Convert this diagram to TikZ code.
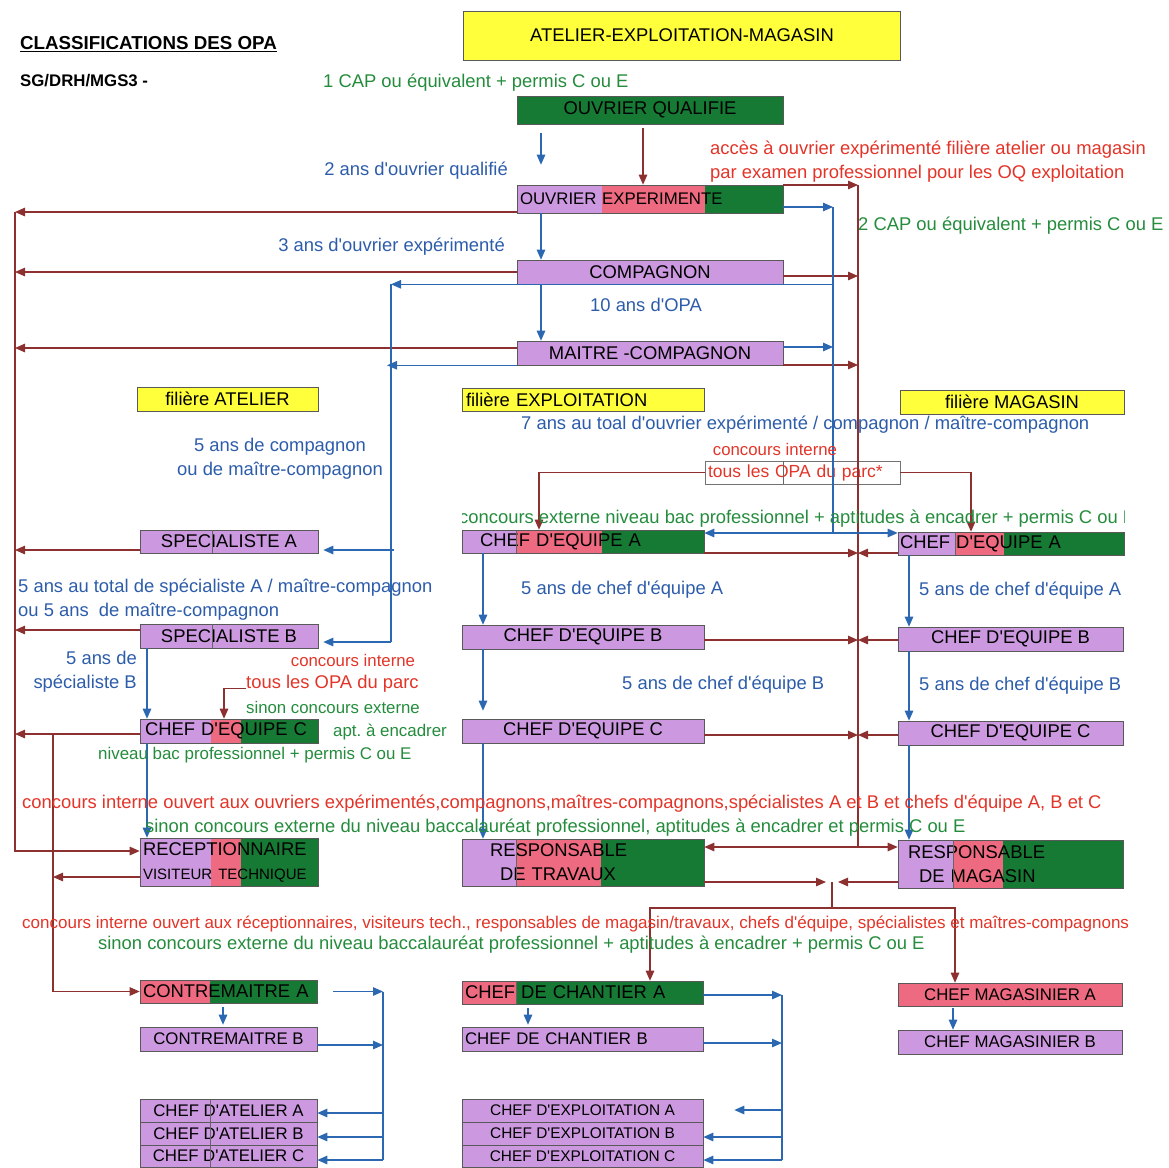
\documentclass[tikz,border=0pt]{standalone}
\usepackage{fontspec}
\setmainfont{Liberation Sans}[Ligatures=TeXOff]
\usetikzlibrary{arrows.meta}

\definecolor{pu}{RGB}{204,153,224}
\definecolor{pk}{RGB}{238,106,128}
\definecolor{gr}{RGB}{22,122,52}
\definecolor{ye}{RGB}{255,255,60}
\definecolor{dbrown}{RGB}{140,48,48}
\definecolor{dblue}{RGB}{44,104,178}
\definecolor{rt}{RGB}{226,52,40}
\definecolor{gt}{RGB}{36,140,60}
\definecolor{bt}{RGB}{44,92,170}

\newcommand{\boxfont}{\fontsize{18.4}{24}\selectfont}
\newcommand{\midboxfont}{\fontsize{16.8}{24}\selectfont}
\newcommand{\smallboxfont}{\fontsize{15}{24}\selectfont}
\newcommand{\notefont}{\fontsize{18.4}{24}\selectfont}
\newcommand{\smallnotefont}{\fontsize{16.8}{24}\selectfont}
\frenchspacing

\begin{document}
\begin{tikzpicture}[
      x=1pt, y=-1pt,
      >={Triangle[length=10pt,width=8.5pt]},
      box/.style={draw=black!65, line width=.6pt, inner ysep=0pt, inner xsep=3pt,
                  minimum height=24pt, font=\boxfont, text=black},
      pbox/.style={box, fill=pu},
      ybox/.style={box, fill=ye},
      brl/.style={draw=dbrown, line width=1.2pt},
      bra/.style={brl, ->},
      bll/.style={draw=dblue, line width=1.2pt},
      bla/.style={bll, ->},
      bnote/.style={text=bt, font=\notefont, inner sep=0pt, yshift=-1.5pt},
      rnote/.style={text=rt, font=\notefont, inner sep=0pt, yshift=-1.5pt},
      gnote/.style={text=gt, font=\notefont, inner sep=0pt, yshift=-1.5pt}]

        \useasboundingbox (0,0) rectangle (1169,1167);

        \node[anchor=west, inner sep=0pt, font=\fontsize{18.75}{20}\selectfont\bfseries] (title) at (20,44)
          {\underline{CLASSIFICATIONS DES OPA}};
        \node[anchor=west, inner sep=0pt, font=\fontsize{16.8}{20}\selectfont\bfseries] (sg) at (20,81)
          {SG/DRH/MGS3 -};

        % couleurs des cases
        \foreach \xa/\xb/\ya/\yb/\cl in {
            517/602/185/213/pu, 602/705/185/213/pk, 705/783/185/213/gr,
            140/211/719/743/pu, 211/241/719/743/pk, 241/318/719/743/gr,
            140/211/838/886/pu, 211/241/838/886/pk, 241/318/838/886/gr,
            140/210/980/1003/pk, 210/317/980/1003/gr,
            462/516/530/553/pu, 516/602/530/553/pk, 602/704/530/553/gr,
            462/516/839/886/pu, 516/601/839/886/pk, 601/704/839/886/gr,
            462/516/981/1004/pk, 516/703/981/1004/gr,
            898/955/532/555/pu, 955/1004/532/555/pk, 1004/1124/532/555/gr,
            898/953/840/888/pu, 953/1003/840/888/pk, 1003/1123/840/888/gr}
          \fill[\cl] (\xa,\ya) rectangle (\xb,\yb);

        % filieres
        \node[ybox, minimum width=437pt, minimum height=49pt] (amag) at (682,35.5) {ATELIER-EXPLOITATION-MAGASIN};
        \node[ybox, minimum width=181pt] (fat) at (227.5,399) {filière ATELIER};
        \node[ybox, minimum width=242pt, minimum height=23pt, text width=234pt, inner xsep=4pt, align=left] (fex) at (583,399.5) {filière EXPLOITATION};
        \node[ybox, minimum width=224pt] (fmg) at (1012,402) {filière MAGASIN};

        % tronc commun
        \node[box, fill=gr, minimum width=266pt, minimum height=28pt] (oq) at (650,110) {OUVRIER QUALIFIE};
        \node[box, minimum width=266pt, minimum height=28pt, text width=260pt, align=left, font=\midboxfont] (oe) at (650,199) {OUVRIER EXPERIMENTE};
        \node[pbox, minimum width=266pt] (comp) at (650,272) {COMPAGNON};
        \node[pbox, minimum width=266pt] (mc) at (650,353) {MAITRE -COMPAGNON};

        % atelier
        \node[pbox, minimum width=178pt, minimum height=23pt] (specA) at (229,541.5) {SPECIALISTE A};
        \node[pbox, minimum width=178pt] (specB) at (229,636) {SPECIALISTE B};
        \node[box, minimum width=178pt, inner xsep=5pt, text width=168pt, align=left] (cdeCat) at (229,731) {CHEF D'EQUIPE C};
        \node[box, minimum width=178pt, minimum height=48pt, text width=172pt, align=left] (recep) at (229,862)
          {RECEPTIONNAIRE\\{\smallboxfont VISITEUR TECHNIQUE}};
        \node[box, minimum width=177pt, minimum height=23pt, text width=171pt, align=left] (contA) at (228.5,991.5) {CONTREMAITRE A};
        \node[pbox, minimum width=177pt, font=\midboxfont] (contB) at (228.5,1039) {CONTREMAITRE B};
        {\midboxfont
        \node[pbox, minimum width=177pt, minimum height=23pt, font=\midboxfont] (cdatA) at (228.5,1110.5) {CHEF D'ATELIER A};
        \node[pbox, minimum width=177pt, minimum height=23pt, font=\midboxfont] (cdatB) at (228.5,1133.5) {CHEF D'ATELIER B};
        \node[pbox, minimum width=177pt, minimum height=22pt, font=\midboxfont] (cdatC) at (228.5,1156) {CHEF D'ATELIER C};
        }

        % exploitation
        \node[box, minimum width=242pt, minimum height=23pt, inner xsep=18pt, text width=206pt, align=left] (cdeAex) at (583,541.5) {CHEF D'EQUIPE A};
        \node[pbox, minimum width=242pt] (cdeBex) at (583,637) {CHEF D'EQUIPE B};
        \node[pbox, minimum width=242pt] (cdeCex) at (583,731) {CHEF D'EQUIPE C};
        \node[box, minimum width=242pt, minimum height=47pt, inner xsep=28pt, text width=186pt, align=left] (respTr) at (583,862.5)
          {RESPONSABLE\\\hspace*{10pt}DE TRAVAUX};
        \node[box, minimum width=241pt, minimum height=23pt, text width=235pt, align=left] (cdcA) at (582.5,992.5) {CHEF DE CHANTIER A};
        \node[pbox, minimum width=241pt, text width=235pt, align=left, font=\midboxfont] (cdcB) at (582.5,1039) {CHEF DE CHANTIER B};
        {\smallboxfont
        \node[pbox, minimum width=241pt, minimum height=23pt, font=\fontsize{15.4}{24}\selectfont] (cdexA) at (582.5,1110.5) {CHEF D'EXPLOITATION A};
        \node[pbox, minimum width=241pt, minimum height=23pt, font=\fontsize{15.4}{24}\selectfont] (cdexB) at (582.5,1133.5) {CHEF D'EXPLOITATION B};
        \node[pbox, minimum width=241pt, minimum height=22pt, font=\fontsize{15.4}{24}\selectfont] (cdexC) at (582.5,1156) {CHEF D'EXPLOITATION C};
        }

        % magasin
        \node[box, minimum width=226pt, minimum height=23pt, inner xsep=2pt, text width=222pt, align=left] (cdeAmg) at (1011,543.5) {CHEF D'EQUIPE A};
        \node[pbox, minimum width=225pt] (cdeBmg) at (1010.5,639) {CHEF D'EQUIPE B};
        \node[pbox, minimum width=225pt] (cdeCmg) at (1010.5,733) {CHEF D'EQUIPE C};
        \node[box, minimum width=225pt, minimum height=48pt, inner xsep=10pt, text width=205pt, align=left] (respMg) at (1010.5,864)
          {RESPONSABLE\\\hspace*{11pt}DE MAGASIN};
        \node[box, fill=pk, minimum width=224pt, minimum height=23pt, font=\midboxfont] (cmgA) at (1010,994.5) {CHEF MAGASINIER A};
        \node[pbox, minimum width=224pt, font=\midboxfont] (cmgB) at (1010,1042) {CHEF MAGASINIER B};

        % concours interne
        \node[box, draw=black!55, minimum width=195pt, minimum height=23pt, text width=189pt, align=left, text=rt, font=\fontsize{17.5}{24}\selectfont] (opa) at (802.5,472.5) {tous les OPA du parc*};

        % traits de cases
        \foreach \x/\ya/\yb in {212/530/553, 212/624/648, 210/1099/1167, 783/461/484,
                                516/530/553, 516/839/886, 516/981/1004, 955/532/555, 953/840/888}
          \draw[black!60, line width=.5pt] (\x,\ya) -- (\x,\yb);

        \coordinate (lsp) at (15,0);
        \coordinate (lsp2) at (53,0);
        \coordinate (rsp) at (858,0);
        \coordinate (bsp) at (833,0);
        \coordinate (asp) at (391,0);
        \coordinate (asp2) at (387,0);
        \coordinate (asp3) at (394,0);
        \coordinate (csp) at (383,0);
        \coordinate (esp) at (782,0);
        \coordinate (xoq) at (643,0);
        \coordinate (xex) at (541,0);
        \coordinate (xat) at (147,0);
        \coordinate (xex2) at (483,0);
        \coordinate (xmg) at (909,0);
        \coordinate (xct) at (223,0);
        \coordinate (xcc) at (528,0);
        \coordinate (xcm) at (953,0);
        \coordinate (op1) at (539,0);
        \coordinate (op2) at (971,0);
        \coordinate (op3) at (224,0);
        \coordinate (cvx) at (832,0);
        \coordinate (cv) at (832,908);
        \coordinate (cv1) at (650,908);
        \coordinate (cv2) at (955,908);

        % vers la gauche
        \foreach \n/\s in {oe/-13, comp/0, mc/5, specA/-8.5, specB/6, cdeCat/-3}
          \draw[bra] ([yshift=\s pt]\n.west) -- ([yshift=\s pt]\n.west -| lsp);
        \draw[bra] ([yshift=-13pt]oe.west -| lsp) -- ([yshift=11pt]recep.west -| lsp) -- ([yshift=11pt]recep.west);
        \draw[bra] ([yshift=-3pt]cdeCat.west -| lsp2) -- (contA.west -| lsp2) -- (contA.west);
        \draw[bra] ([yshift=-15pt]recep.west) -- ([yshift=-15pt]recep.west -| lsp2);

        % vers la droite
        \foreach \n/\s in {oe/14, comp/-4, mc/-12, cdeAex/-11.5, cdeBex/-3, cdeCex/-4}
          \draw[bra] ([yshift=\s pt]\n.east) -- ([yshift=\s pt]\n.east -| rsp);
        \foreach \n/\s in {cdeAmg/-9.5, cdeBmg/-1, cdeCmg/-2}
          \draw[bra] ([yshift=\s pt]\n.west) -- ([yshift=\s pt]\n.west -| rsp);
        \draw[brl] ([yshift=14pt]oe.east -| rsp) -- ([yshift=15.5pt]respTr.east -| rsp);
        \draw[brl, <->] ([yshift=15.5pt]respTr.east) -- ([yshift=15.5pt]respTr.east -| respMg.west);

        % responsables
        \draw[bra, shorten >=6pt] ([yshift=-19.5pt]respTr.east) -- ([yshift=-19.5pt]respTr.east -| cvx);
        \draw[bra, shorten >=6pt] ([yshift=-18pt]respMg.west) -- ([yshift=-18pt]respMg.west -| cvx);
        \draw[brl] ([yshift=-19.5pt]respTr.east -| cvx) -- (cv);
        \draw[bra] (cv) -- (cv1) -- (cv1 |- cdcA.north);
        \draw[bra] (cv) -- (cv2) -- (cv2 |- cmgA.north);

        % concours
        \draw[bra, shorten <=4pt] (xoq |- oq.south) -- (xoq |- oe.north);
        \draw[bra] (opa.west) -- (opa.west -| op1) -- (op1 |- cdeAex.north);
        \draw[bra] (opa.east) -- (opa.east -| op2) -- (op2 |- cdeAmg.north);

        % avancement
        \draw[bla, shorten <=9pt, shorten >=20pt] (xex |- oq.south) -- (xex |- oe.north);
        \draw[bla] (xex |- oe.south) -- (xex |- comp.north);
        \draw[bla] (xex |- comp.south) -- (xex |- mc.north);
        \draw[bla] ([yshift=-8pt]oe.east) -- ([yshift=-8pt]oe.east -| bsp);
        \draw[bla] ([yshift=6pt]mc.east) -- ([yshift=6pt]mc.east -| bsp);
        \draw[bll] ([yshift=-8pt]oe.east -| bsp) -- ([yshift=8.5pt]cdeAex.east -| bsp);
        \draw[bll, <->] ([yshift=8.5pt]cdeAex.east) -- ([yshift=8.5pt]cdeAex.east -| cdeAmg.west);
        \draw[bla] (bsp |- comp.south) -- (asp |- comp.south);
        \draw[bla] (mc.south west) -- (mc.south west -| asp2);
        \draw[bll] (asp |- comp.south) -- ([yshift=-6pt]specB.east -| asp);
        \draw[bla, shorten >=5pt] ([yshift=-8.5pt]specA.east -| asp3) -- ([yshift=-8.5pt]specA.east);
        \draw[bla, shorten >=5pt] ([yshift=-6pt]specB.east -| asp) -- ([yshift=-6pt]specB.east);

        \draw[bla] (xat |- specB.south) -- (xat |- cdeCat.north);
        \draw[bla] (xat |- cdeCat.south) -- (xat |- recep.north);
        \draw[bla] (xex2 |- cdeAex.south) -- (xex2 |- cdeBex.north);
        \draw[bla, shorten >=8pt] (xex2 |- cdeBex.south) -- (xex2 |- cdeCex.north);
        \draw[bla] (xex2 |- cdeCex.south) -- (xex2 |- respTr.north);
        \draw[bla] (xmg |- cdeAmg.south) -- (xmg |- cdeBmg.north);
        \draw[bla] (xmg |- cdeBmg.south) -- (xmg |- cdeCmg.north);
        \draw[bla] (xmg |- cdeCmg.south) -- (xmg |- respMg.north);

        \draw[bla, shorten <=4pt, shorten >=2pt] (xct |- contA.south) -- (xct |- contB.north);
        \draw[bla, shorten <=4pt, shorten >=2pt] (xcc |- cdcA.south) -- (xcc |- cdcB.north);
        \draw[bla, shorten <=2pt] (xcm |- cmgA.south) -- (xcm |- cmgB.north);

        % chefs d'atelier
        \draw[bla, shorten <=16pt] (contA.east) -- (contA.east -| csp);
        \draw[bla] ([yshift=-6pt]contB.east) -- ([yshift=-6pt]contB.east -| csp);
        \draw[bll] (contA.east -| csp) -- ([yshift=-4pt]cdatC.east -| csp);
        \foreach \n/\s in {cdatA/-2.5, cdatB/-3.5, cdatC/-4}
          \draw[bla] ([yshift=\s pt]\n.east -| csp) -- ([yshift=\s pt]\n.east);

        % chefs d'exploitation
        \draw[bla] ([yshift=-2.5pt]cdcA.east) -- ([yshift=-2.5pt]cdcA.east -| esp);
        \draw[bla] ([yshift=-4pt]cdcB.east) -- ([yshift=-4pt]cdcB.east -| esp);
        \draw[bll] ([yshift=-2.5pt]cdcA.east -| esp) -- ([yshift=-4pt]cdexC.east -| esp);
        \draw[bla, shorten >=31pt] ([yshift=0.5pt]cdexA.east -| esp) -- ([yshift=0.5pt]cdexA.east);
        \foreach \n/\s in {cdexB/-3.5, cdexC/-4}
          \draw[bla] ([yshift=\s pt]\n.east -| esp) -- ([yshift=\s pt]\n.east);

        % textes
        \node[gnote, anchor=west] (cap1) at (323,81) {1 CAP ou équivalent + permis C ou E};
        \node[bnote, anchor=east] (ans2) at (508,169) {2 ans d'ouvrier qualifié};
        \node[rnote, anchor=west] (acc1) at (710,148) {accès à ouvrier expérimenté filière atelier ou magasin};
        \node[rnote, anchor=west] (acc2) at (710,172) {par examen professionnel pour les OQ exploitation};
        \node[gnote, anchor=west] (cap2) at (858,224) {2 CAP ou équivalent + permis C ou E};
        \node[bnote, anchor=east] (ans3) at (505,245) {3 ans d'ouvrier expérimenté};
        \node[bnote] (ans10) at (646,303) {10 ans d'OPA};
        \node[bnote, align=center] (ans5) at (280,457) {5 ans de compagnon\\ou de maître-compagnon};
        \node[bnote, anchor=west] (ans7) at (521,423) {7 ans au toal d'ouvrier expérimenté / compagnon / maître-compagnon};
        \node[rnote, font=\smallnotefont] (ci1) at (775,448) {concours interne};
        \begin{scope}
          \clip (462,505) rectangle (1124,530);
          \node[gnote, anchor=west] (ce1) at (459,517) {concours externe niveau bac professionnel + aptitudes à encadrer + permis C ou E};
        \end{scope}
        \node[bnote, anchor=west, align=left] (spa) at (18,598.5) {5 ans au total de spécialiste A / maître-compagnon\\ou 5 ans~ de maître-compagnon};
        \node[bnote, anchor=east, align=right] (spb) at (137,670) {5 ans de\\spécialiste B};
        \node[rnote, font=\smallnotefont] (ci2) at (353,659) {concours interne};
        \node[rnote, anchor=west] (opaat) at (246,682) {tous les OPA du parc};
        \draw[bra] ([yshift=-5pt]opaat.west) -| (op3 |- cdeCat.north);
        \node[gnote, font=\smallnotefont] (ce2) at (333,706) {sinon concours externe};
        \node[gnote, anchor=west, font=\fontsize{16.9}{24}\selectfont] (apt) at (333,731) {apt. à encadrer};
        \node[gnote, anchor=west, font=\fontsize{16.9}{24}\selectfont] (niv) at (98,754) {niveau bac professionnel + permis C ou E};
        \node[bnote, anchor=west] (eqa1) at (521,588) {5 ans de chef d'équipe A};
        \node[bnote, anchor=west] (eqa2) at (919,589) {5 ans de chef d'équipe A};
        \node[bnote, anchor=west] (eqb1) at (622,683) {5 ans de chef d'équipe B};
        \node[bnote, anchor=west] (eqb2) at (919,684) {5 ans de chef d'équipe B};
        \node[rnote, anchor=west] (ci3) at (22,802) {concours interne ouvert aux ouvriers expérimentés,compagnons,maîtres-compagnons,spécialistes A et B et chefs d'équipe A, B et C};
        \node[gnote, anchor=west] (ce3) at (145,826) {sinon concours externe du niveau baccalauréat professionnel, aptitudes à encadrer et permis C ou E};
        \node[rnote, anchor=west, font=\fontsize{17}{24}\selectfont] (ci4) at (22,922) {concours interne ouvert aux réceptionnaires, visiteurs tech., responsables de magasin/travaux, chefs d'équipe, spécialistes et maîtres-compagnons};
        \node[gnote, anchor=west] (ce4) at (98,943) {sinon concours externe du niveau baccalauréat professionnel + aptitudes à encadrer + permis C ou E};

\end{tikzpicture}
\end{document}
